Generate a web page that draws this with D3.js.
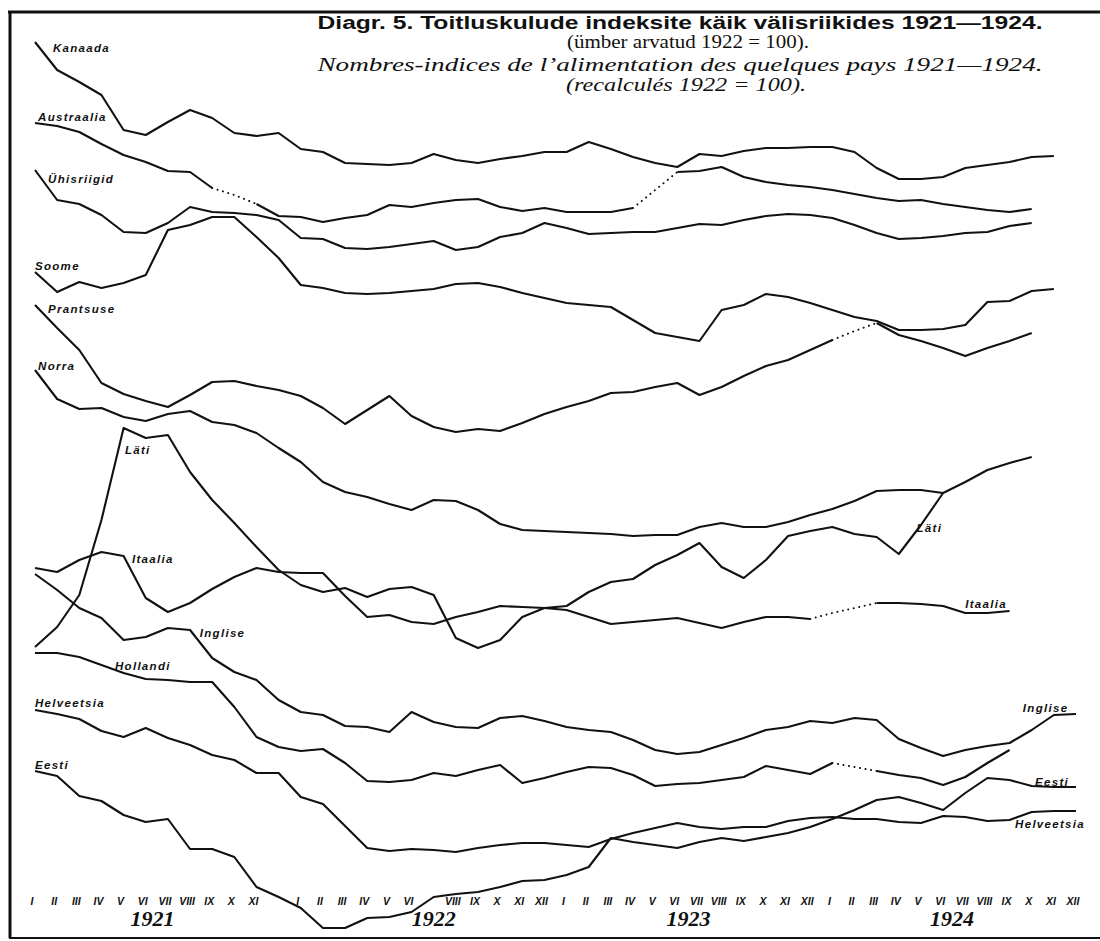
<!DOCTYPE html>
<html><head><meta charset="utf-8">
<script src="https://cdn.jsdelivr.net/npm/d3@7"></script>
<style>
html,body{margin:0;padding:0;background:#fff;}
svg{display:block;}
</style></head>
<body><svg id="chart" width="1100" height="941"></svg>
<script>
const monthLabels = ["I","II","III","IV","V","VI","VII","VIII","IX","X","XI","XII"];
const years = ["1921","1922","1923","1924"];
const hiddenTicks = [11, 18];   // month labels hidden by the Eesti curve

const kanaada    = [898,870,858,845,810,805,818,830,822,807,804,807,791,788,777,776,775,777,786,780,777,781,784,788,788,798,791,783,777,773,786,784,789,792,792,793,793,788,772,761,761,763,772,775,778,783,784];
const austraalia = [817,814,808,796,785,778,769,768,752,745,736,724,723,718,722,725,735,733,737,740,741,733,729,732,728,728,728,732,750,768,769,773,763,758,755,753,750,746,742,739,740,736,733,730,728,731];
const uhisriigid = [770,740,736,725,708,707,717,733,728,727,725,720,702,701,692,691,693,696,699,690,693,703,707,717,712,706,707,708,708,712,716,715,720,724,726,725,722,715,707,701,702,704,707,708,714,717];
const soome      = [668,648,658,652,657,665,710,715,723,723,703,682,655,652,647,646,647,649,651,656,657,653,647,642,637,635,633,620,607,603,599,630,635,646,643,637,630,623,619,610,610,611,615,638,639,649,651];
const prantsuse  = [635,612,590,557,546,539,533,545,558,559,554,550,544,532,516,530,544,524,513,508,511,509,517,526,533,539,547,548,553,557,545,553,564,574,580,590,600,609,617,605,599,592,584,592,599,607];
const norra      = [570,541,531,532,523,519,526,529,518,515,507,492,478,458,448,443,436,430,440,439,430,416,410,409,408,407,406,404,405,405,413,417,413,413,418,425,431,439,449,450,450,447,458,470,477,483];
const lati       = [293,313,345,420,512,502,505,468,440,417,393,370,355,348,352,343,351,353,345,302,292,300,323,332,334,348,358,361,375,385,397,373,362,380,404,409,413,406,403,386,415,447];
const itaalia    = [372,368,380,388,384,342,328,337,351,363,372,368,367,367,344,323,325,318,316,323,328,334,333,332,330,323,316,318,320,322,317,312,318,323,323,321,327,332,337,337,336,334,327,327,329];
const inglise    = [366,350,332,322,300,303,312,310,282,268,260,240,228,225,214,213,208,228,218,213,212,222,224,219,213,210,208,200,190,186,188,195,202,210,213,219,217,222,220,201,192,184,190,194,197,210,225,226];
const hollandi   = [287,287,283,275,267,261,260,258,258,233,203,193,189,191,177,159,158,160,167,164,170,175,157,162,168,173,172,165,154,156,157,160,163,174,170,166,177,173,169,165,162,155,163,177,190];
const helveetsia = [230,226,221,209,203,212,202,195,185,180,167,167,143,136,114,92,89,91,90,88,92,95,97,97,95,93,101,107,112,117,113,111,113,113,119,122,123,121,121,118,117,124,123,119,120,128,129,129];
const eesti      = [169,164,144,139,125,118,121,91,91,83,53,43,32,12,12,22,23,28,43,46,48,53,59,60,65,73,102,98,95,92,98,102,99,103,107,113,121,130,140,143,137,130,147,162,160,154,153,153];

const seriesNames = ["Kanaada","Austraalia","Ühisriigid","Soome","Prantsuse","Norra","Läti","Itaalia","Inglise","Hollandi","Helveetsia","Eesti"];
const seriesValues = [kanaada,austraalia,uhisriigid,soome,prantsuse,norra,lati,itaalia,inglise,hollandi,helveetsia,eesti];
// month-index spans drawn dotted (gaps in the statistics)
const dottedSpans = {"Austraalia":[[8,10],[27,29]], "Prantsuse":[[36,38]], "Itaalia":[[35,38]], "Hollandi":[[36,38]]};

const labelTexts = ["Kanaada","Austraalia","Ühisriigid","Soome","Prantsuse","Norra","Läti","Itaalia","Inglise","Hollandi","Helveetsia","Eesti",
                    "Läti","Itaalia","Inglise","Eesti","Helveetsia"];

const titleLines = [
  "Diagr. 5. Toitluskulude indeksite käik välisriikides 1921—1924.",
  "(ümber arvatud 1922 = 100).",
  "Nombres-indices de l’alimentation des quelques pays 1921—1924.",
  "(recalculés 1922 = 100)."
];

// ---- drawing ----
const svg = d3.select("#chart");
const W = 1100, H = 941;
svg.append("rect").attr("width",W).attr("height",H).attr("fill","#fff");

const x = d3.scaleLinear().domain([0,47]).range([35,1076]);
const y = d3.scaleLinear().domain([0,900]).range([940,40]);

// frame
const frame = svg.append("g").attr("stroke","#111").attr("fill","none");
frame.append("line").attr("x1",8).attr("x2",W).attr("y1",12).attr("y2",12).attr("stroke-width",3);
frame.append("line").attr("x1",10).attr("x2",10).attr("y1",11).attr("y2",938).attr("stroke-width",3);
frame.append("line").attr("x1",9).attr("x2",W).attr("y1",938).attr("y2",938).attr("stroke-width",2);

// title
const titleStyle = [
  {y:29, size:18, family:"'Liberation Sans', Arial, sans-serif", weight:"bold", style:"normal", cx:680, len:725},
  {y:48, size:18, family:"'Liberation Serif', 'Times New Roman', serif", weight:"normal", style:"normal", cx:688, len:242},
  {y:71, size:18, family:"'Liberation Serif', 'Times New Roman', serif", weight:"normal", style:"italic", cx:680, len:725},
  {y:91, size:18, family:"'Liberation Serif', 'Times New Roman', serif", weight:"normal", style:"italic", cx:686, len:240}
];
titleLines.forEach((t,k) => {
  const s = titleStyle[k];
  svg.append("text").text(t)
    .attr("x", s.cx).attr("y", s.y)
    .attr("text-anchor","middle")
    .attr("font-family", s.family).attr("font-size", s.size)
    .attr("font-weight", s.weight).attr("font-style", s.style)
    .attr("textLength", s.len).attr("lengthAdjust","spacingAndGlyphs")
    .attr("fill","#111");
});

// curves
const line = d3.line().x(d => x(d[0])).y(d => y(d[1]));
const curves = svg.append("g");
seriesNames.forEach((name, k) => {
  const vals = seriesValues[k];
  const spans = dottedSpans[name] || [];
  const isDot = i => spans.some(([a,b]) => i >= a && i + 1 <= b);
  const runs = [];
  let cur = null;
  for (let i = 0; i < vals.length - 1; i++) {
    const d = isDot(i);
    if (!cur || cur.dot !== d) { cur = {dot:d, pts:[[i, vals[i]]]}; runs.push(cur); }
    cur.pts.push([i+1, vals[i+1]]);
  }
  runs.forEach(r => {
    curves.append("path").attr("d", line(r.pts))
      .attr("fill","none").attr("stroke","#111")
      .attr("stroke-width", r.dot ? 2 : 2.1)
      .attr("stroke-linejoin","round")
      .attr("stroke-linecap", r.dot ? "round" : "butt")
      .attr("stroke-dasharray", r.dot ? "0.1 5.5" : null);
  });
});

// curve labels (anchored in month-index / level space)
const labelAnchors = [[0.81,888],[0.14,819],[0.59,757],[0,670],[0.59,627],[0.14,570],[4.06,486],[4.38,377],[7.44,303],[3.61,270],[0,233],[0,171],
                      [39.8,408],[42.0,332],[44.6,228],[45.15,154],[44.25,112]];
const labG = svg.append("g")
  .attr("font-family","'Liberation Sans', Arial, sans-serif")
  .attr("font-size",11.5).attr("font-weight","bold").attr("font-style","italic")
  .attr("letter-spacing","1.3px").attr("fill","#111");
labelTexts.forEach((t,k) => {
  labG.append("text").text(t).attr("x", x(labelAnchors[k][0])).attr("y", y(labelAnchors[k][1]));
});

// month axis
const axG = svg.append("g")
  .attr("font-family","'Liberation Sans', Arial, sans-serif")
  .attr("font-size",10.5).attr("font-weight","bold").attr("font-style","italic").attr("fill","#111");
d3.range(48).forEach(i => {
  if (hiddenTicks.includes(i)) return;
  axG.append("text").text(monthLabels[i % 12])
    .attr("x", x(i) - 3).attr("y", y(35)).attr("text-anchor","middle");
});
const yearAnchor = [5.3, 18, 29.5, 41.4];
years.forEach((t,k) => {
  svg.append("text").text(t)
    .attr("x", x(yearAnchor[k])).attr("y", y(14)).attr("text-anchor","middle")
    .attr("font-family","'Liberation Serif', 'Times New Roman', serif")
    .attr("font-size",22).attr("font-weight","bold").attr("font-style","italic").attr("fill","#111");
});
</script>
</body></html>
